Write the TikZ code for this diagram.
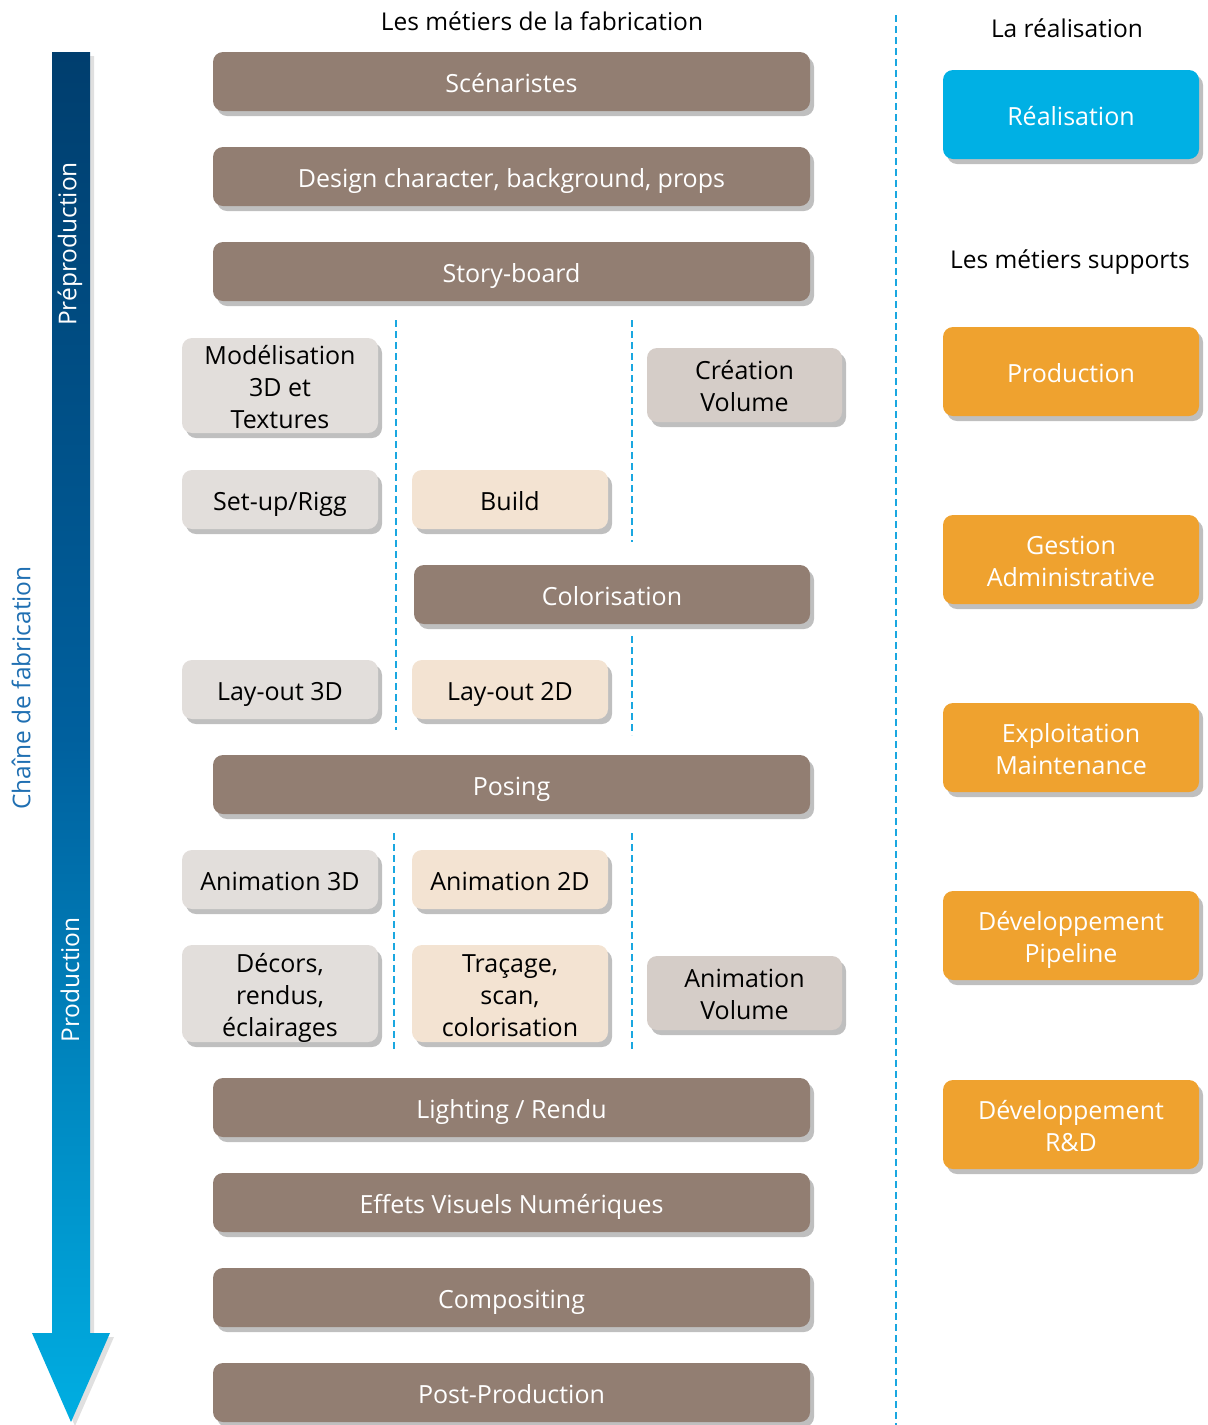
\documentclass[tikz,border=0pt]{standalone}
\usepackage{fontspec}
\setmainfont{Open Sans}
\usetikzlibrary{shadows}
\definecolor{brn}{HTML}{927E72}
\definecolor{lgray}{HTML}{E2DEDB}
\definecolor{peach}{HTML}{F3E3D2}
\definecolor{dgray}{HTML}{D5CDC8}
\definecolor{cyanbox}{HTML}{00B0E4}
\definecolor{orng}{HTML}{EFA22F}
\definecolor{sepblue}{HTML}{1AA7E0}
\definecolor{chainblue}{HTML}{1F6FB2}
\definecolor{arrtop}{HTML}{003E6E}
\definecolor{arrmid}{HTML}{00609E}
\definecolor{arrbot}{HTML}{00AEE2}
\newcommand\mlines[1]{\vbox{\halign{\hfil##\hfil\cr#1\crcr}}}
\tikzset{
  shad/.style={drop shadow={shadow xshift=4pt, shadow yshift=-5pt, opacity=0.25, fill=black}},
  boxbase/.style={rounded corners=10pt, inner sep=0pt, shad,
    font=\fontsize{25}{32}\selectfont, text height=21pt, text depth=0pt},
  twol/.style={text height=53pt, text depth=0pt},
  threel/.style={text height=85pt, text depth=0pt},
  brownbox/.style={boxbase, fill=brn, text=white, minimum width=597pt, minimum height=59pt},
  graybox/.style={boxbase, fill=lgray, text=black, minimum width=196pt, minimum height=59pt},
  peachbox/.style={boxbase, fill=peach, text=black, minimum width=196pt, minimum height=59pt},
  volbox/.style={boxbase, fill=dgray, text=black, minimum width=195pt, minimum height=74pt},
  realbox/.style={boxbase, fill=cyanbox, text=white, minimum width=256pt, minimum height=89pt},
  supbox/.style={boxbase, fill=orng, text=white, minimum width=256pt, minimum height=89pt},
  sep/.style={draw=sepblue, line width=1.5pt, dash pattern=on 7pt off 4pt},
  heading/.style={font=\fontsize{24.5}{30}\selectfont, text=black},
  arrlabel/.style={rotate=90, font=\fontsize{24.5}{30}\selectfont}
}
\begin{document}
\begin{tikzpicture}[x=1pt,y=-1pt]
\useasboundingbox (0,0) rectangle (1208,1425);
% arrow shadow
\fill[black, opacity=0.12] (56,56) -- (94,56) -- (94,1337) -- (114,1337) -- (75,1426) -- (36,1337) -- (56,1337) -- cycle;
% arrow
\shade[top color=arrtop, bottom color=arrbot, middle color=arrmid]
  (52,52) -- (90,52) -- (90,1333) -- (110,1333) -- (71,1422) -- (32,1333) -- (52,1333) -- cycle;
\node[arrlabel, text=white] (prep) at (70,244) {Préproduction};
\node[arrlabel, text=white] (prod) at (70,980) {Production};
\node[arrlabel, text=chainblue] (chain) at (21,688) {Chaîne de fabrication};

% headings
\node[heading] (h1) at (542,21) {Les métiers de la fabrication};
\node[heading] (h2) at (1067,28) {La réalisation};
\node[heading] (h3) at (1070,262) {Les métiers supports};

% separators
\draw[sep] (896,15) -- (896,1425);
\draw[sep] (396,320) -- (396,730);
\draw[sep] (632,320) -- (632,542);
\draw[sep] (632,636) -- (632,735);
\draw[sep] (394,833) -- (394,1052);
\draw[sep] (632,833) -- (632,1052);

% brown boxes
\node[brownbox] (scen) at (511.5,81.5) {Scénaristes};
\node[brownbox] (design) at (511.5,176.5) {Design character, background, props};
\node[brownbox] (story) at (511.5,271.5) {Story-board};
\node[brownbox, minimum width=396pt] (color) at (612,594.5) {Colorisation};
\node[brownbox] (posing) at (511.5,784.5) {Posing};
\node[brownbox] (light) at (511.5,1107.5) {Lighting / Rendu};
\node[brownbox] (vfx) at (511.5,1202.5) {Effets Visuels Numériques};
\node[brownbox] (comp) at (511.5,1297.5) {Compositing};
\node[brownbox] (post) at (511.5,1392.5) {Post-Production};

% gray boxes
\node[graybox, threel, minimum height=95pt] (model) at (280,385.5) {\mlines{Modélisation\cr 3D et\cr Textures}};
\node[graybox] (setup) at (280,499.5) {Set-up/Rigg};
\node[graybox] (lay3) at (280,689.5) {Lay-out 3D};
\node[graybox] (anim3) at (280,879.5) {Animation 3D};
\node[graybox, threel, minimum height=97pt] (decor) at (280,993.5) {\mlines{Décors,\cr rendus,\cr éclairages}};

% peach boxes
\node[peachbox] (build) at (510,499.5) {Build};
\node[peachbox] (lay2) at (510,689.5) {Lay-out 2D};
\node[peachbox] (anim2) at (510,879.5) {Animation 2D};
\node[peachbox, threel, minimum height=97pt] (trac) at (510,993.5) {\mlines{Traçage,\cr scan,\cr colorisation}};

% volume boxes
\node[volbox, twol] (crevol) at (744.5,385) {\mlines{Création\cr Volume}};
\node[volbox, twol] (animvol) at (744.5,993) {\mlines{Animation\cr Volume}};

% right column
\node[realbox] (real) at (1071,114.5) {Réalisation};
\node[supbox] (sprod) at (1071,371.5) {Production};
\node[supbox, twol] (gest) at (1071,559.5) {\mlines{Gestion\cr Administrative}};
\node[supbox, twol] (expl) at (1071,747.5) {\mlines{Exploitation\cr Maintenance}};
\node[supbox, twol] (pipe) at (1071,935.5) {\mlines{Développement\cr Pipeline}};
\node[supbox, twol] (rnd) at (1071,1124.5) {\mlines{Développement\cr R\&D}};
\end{tikzpicture}
\end{document}
